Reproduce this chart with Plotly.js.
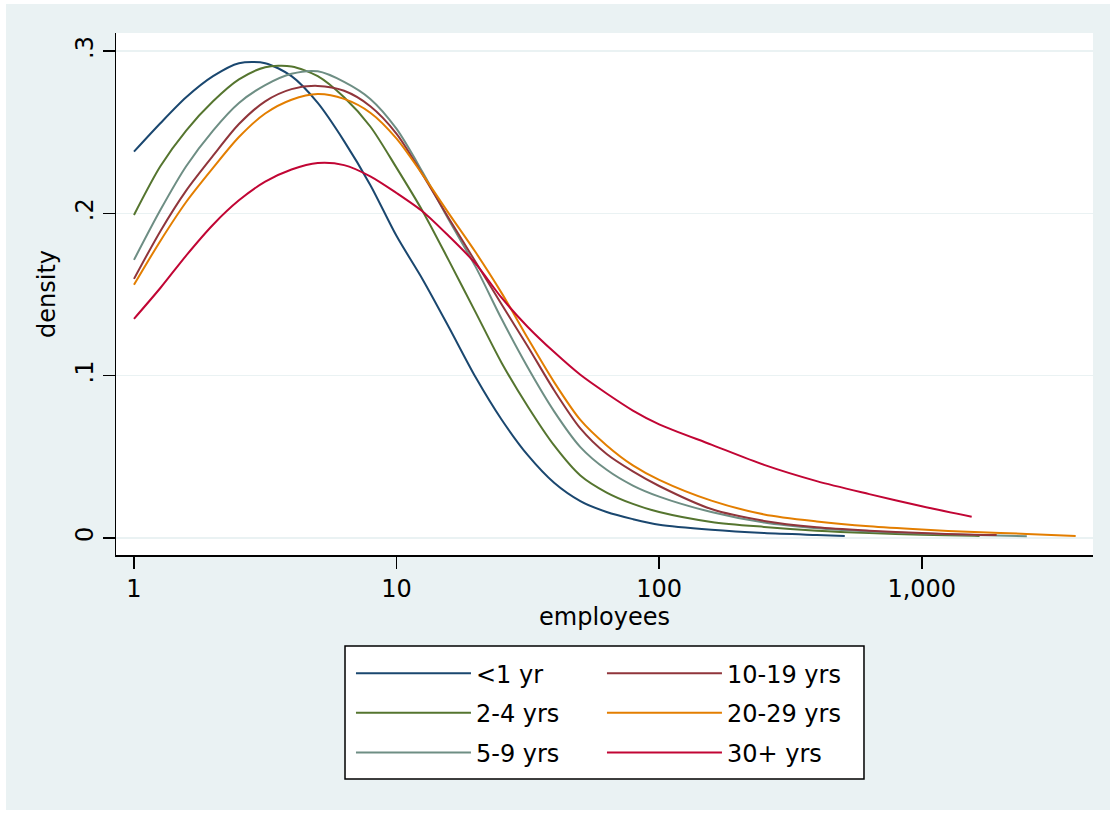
<!DOCTYPE html>
<html><head><meta charset="utf-8">
<script src="https://cdn.plot.ly/plotly-3.0.1.min.js"></script>
<style>
html,body{margin:0;padding:0;background:#ffffff;width:1116px;height:814px;overflow:hidden}
#chart{position:absolute;left:6px;top:4px;width:1104px;height:806px}
</style>
</head><body><div id="chart"></div>
<script>
// employees grid (x values, log scale)
const empGrid = [1, 1.26, 1.58, 2, 2.51, 3.16, 3.98, 5.01, 6.31, 7.94, 10, 12.6, 15.8, 20, 25.1, 31.6, 39.8, 50.1, 63.1, 79.4, 100, 158, 251, 398, 631, 1000, 1585, 2512];

const seriesNames = ['<1 yr', '2-4 yrs', '5-9 yrs', '10-19 yrs', '20-29 yrs', '30+ yrs'];
const seriesColors = ['#1a476f', '#55752f', '#6e8e84', '#90353b', '#e37e00', '#c10534'];

// density values
const dens_lt1 = [0.238, 0.2555, 0.2715, 0.2845, 0.2925, 0.2925, 0.2845, 0.268, 0.2445, 0.2175, 0.186, 0.159, 0.130, 0.099, 0.073, 0.051, 0.034, 0.0227, 0.016, 0.0116, 0.0081, 0.005, 0.003, 0.0018];
const dens_2to4 = [0.199, 0.229, 0.251, 0.269, 0.2825, 0.290, 0.2905, 0.2845, 0.2715, 0.2535, 0.228, 0.201, 0.171, 0.139, 0.108, 0.081, 0.057, 0.0385, 0.028, 0.021, 0.016, 0.0099, 0.0068, 0.0045, 0.003, 0.002, 0.0013];
const dens_5to9 = [0.1713, 0.202, 0.229, 0.251, 0.268, 0.279, 0.286, 0.2875, 0.281, 0.2705, 0.252, 0.225, 0.196, 0.167, 0.135, 0.105, 0.078, 0.056, 0.042, 0.0323, 0.0255, 0.016, 0.0095, 0.006, 0.004, 0.0027, 0.0018, 0.0011];
const dens_10to19 = [0.1596, 0.189, 0.214, 0.2355, 0.255, 0.269, 0.2765, 0.2785, 0.2755, 0.266, 0.249, 0.2235, 0.197, 0.170, 0.144, 0.118, 0.091, 0.0675, 0.0517, 0.041, 0.032, 0.0178, 0.0105, 0.0066, 0.0045, 0.003, 0.002];
const dens_20to29 = [0.156, 0.183, 0.207, 0.228, 0.247, 0.2615, 0.270, 0.2735, 0.2705, 0.262, 0.246, 0.2235, 0.200, 0.176, 0.151, 0.123, 0.096, 0.0727, 0.057, 0.0447, 0.0358, 0.023, 0.0145, 0.0102, 0.0072, 0.0052, 0.0036, 0.0025];
const dens_30plus = [0.135, 0.154, 0.174, 0.193, 0.208, 0.2195, 0.227, 0.231, 0.2297, 0.2228, 0.2125, 0.201, 0.186, 0.169, 0.148, 0.130, 0.1145, 0.1005, 0.089, 0.0785, 0.070, 0.0575, 0.045, 0.035, 0.027, 0.0195];

// last evaluation point of each curve (employees, density)
const endEmp = [509, 1660, null, 1928, 3855, 1549];
const endDens = [0.0012, 0.0012, null, 0.0018, 0.0012, 0.0131];

const allDens = [dens_lt1, dens_2to4, dens_5to9, dens_10to19, dens_20to29, dens_30plus];

const xTickVals = [1, 10, 100, 1000];
const xTickText = ['1', '10', '100', '1,000'];
const yTickVals = [0, 0.1, 0.2, 0.3];
const yTickText = ['0', '.1', '.2', '.3'];

const FONT = 'DejaVu Sans, sans-serif';

const traces = allDens.map((d, i) => {
  let xs = empGrid.slice(0, d.length);
  let ys = d.slice();
  if (endEmp[i] !== null) { xs = xs.concat([endEmp[i]]); ys = ys.concat([endDens[i]]); }
  return {
    type: 'scatter', mode: 'lines', x: xs, y: ys, name: seriesNames[i],
    line: {color: seriesColors[i], width: 2, shape: 'spline', smoothing: 0.8},
    legend: i < 3 ? 'legend' : 'legend2',
    legendgroup: 'g' + i,
    hoverinfo: 'skip'
  };
});

const legendCommon = {
  orientation: 'v', xanchor: 'left', yanchor: 'top',
  bgcolor: 'rgba(0,0,0,0)', borderwidth: 0,
  font: {family: FONT, size: 24, color: '#000'},
  itemwidth: 115, traceorder: 'grouped', tracegroupgap: 5.5
};

const layout = {
  width: 1104, height: 806,
  margin: {l: 110, r: 17, t: 29, b: 255, pad: 0},
  paper_bgcolor: '#EAF2F3',
  plot_bgcolor: '#ffffff',
  font: {family: FONT, size: 24, color: '#000'},
  showlegend: true,
  xaxis: {
    type: 'log', range: [-0.0685, 3.652],
    tickmode: 'array', tickvals: xTickVals, ticktext: xTickText,
    ticks: 'outside', ticklen: 12, tickwidth: 1.5, tickcolor: '#000',
    showline: true, linecolor: '#000', linewidth: 1.5,
    showgrid: false, zeroline: false,
    tickfont: {family: FONT, size: 24, color: '#000'},
    title: {text: 'employees', font: {family: FONT, size: 24, color: '#000'}, standoff: 4},
    automargin: false
  },
  yaxis: {
    range: [-0.0105, 0.3111],
    tickmode: 'array', tickvals: yTickVals, ticktext: yTickText, tickangle: -90,
    ticks: 'outside', ticklen: 12, tickwidth: 1.5, tickcolor: '#000',
    showline: true, linecolor: '#000', linewidth: 1.5,
    showgrid: true, gridcolor: '#EAF2F3', gridwidth: 1.5, zeroline: false,
    tickfont: {family: FONT, size: 24, color: '#000'},
    title: {text: 'density', font: {family: FONT, size: 24, color: '#000'}, standoff: 8},
    automargin: false
  },
  legend: Object.assign({}, legendCommon, {x: 0.2405, y: -0.184}),
  legend2: Object.assign({}, legendCommon, {x: 0.4974, y: -0.184}),
  shapes: [{
    type: 'rect', xref: 'paper', yref: 'paper',
    x0: 0.2344, x1: 0.7656, y0: -0.1743, y1: -0.4291,
    line: {color: '#000', width: 1.5}, fillcolor: '#ffffff', layer: 'below'
  }]
};

Plotly.newPlot('chart', traces, layout, {staticPlot: true, displayModeBar: false});
</script></body></html>
